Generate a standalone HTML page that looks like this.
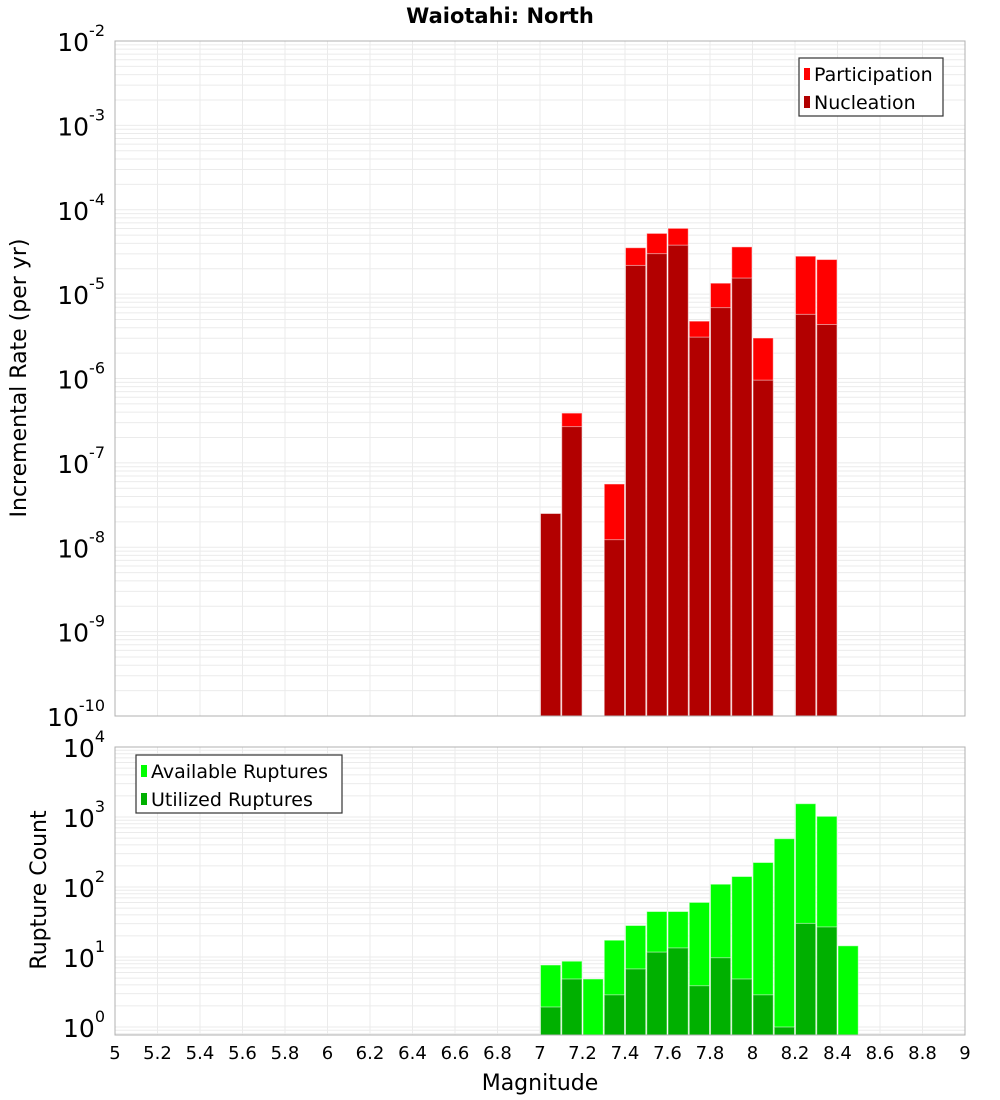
<!DOCTYPE html>
<html><head><meta charset="utf-8"><style>
body{margin:0;background:#fff;font-family:"Liberation Sans","DejaVu Sans",sans-serif}
svg{display:block}
</style></head><body>
<svg id="chart" width="1000" height="1100" xmlns="http://www.w3.org/2000/svg" font-family="DejaVu Sans, Liberation Sans, sans-serif">
<text x="500" y="23" text-anchor="middle" font-size="21" font-weight="bold">Waiotahi: North</text>
<text transform="translate(26,378) rotate(-90)" text-anchor="middle" font-size="22">Incremental Rate (per yr)</text>
<text transform="translate(46,890) rotate(-90)" text-anchor="middle" font-size="22">Rupture Count</text>
<text x="540" y="1090" text-anchor="middle" font-size="22">Magnitude</text>
<g id="g"></g>
</svg>
<script>
const mags=[7.05,7.15,7.35,7.45,7.55,7.65,7.75,7.85,7.95,8.05,8.25,8.35];
const partLog=[-7.60,-6.41,-7.25,-4.45,-4.28,-4.22,-5.32,-4.87,-4.44,-5.52,-4.55,-4.59];
const nuclLog=[-7.60,-6.57,-7.91,-4.66,-4.52,-4.42,-5.51,-5.16,-4.81,-6.02,-5.24,-5.36];
const cMags=[7.05,7.15,7.25,7.35,7.45,7.55,7.65,7.75,7.85,7.95,8.05,8.15,8.25,8.35,8.45];
const availLog=[0.886,0.94,0.686,1.24,1.45,1.65,1.65,1.78,2.04,2.15,2.35,2.69,3.19,3.01,1.16];
const utilLog=[0.286,0.686,null,0.46,0.83,1.07,1.13,0.59,0.99,0.686,0.46,0.0,1.48,1.43,null];
const xTicks=[5,5.2,5.4,5.6,5.8,6,6.2,6.4,6.6,6.8,7,7.2,7.4,7.6,7.8,8,8.2,8.4,8.6,8.8,9];
const topDecades=[-2,-3,-4,-5,-6,-7,-8,-9,-10];
const botDecades=[4,3,2,1,0];

const NS="http://www.w3.org/2000/svg";
const g=document.getElementById('g');
function el(t,a,p){const e=document.createElementNS(NS,t);for(const k in a)e.setAttribute(k,a[k]);(p||g).appendChild(e);return e;}
const X0=115,X1=965;
const x=m=>X0+(m-5)/4*(X1-X0);
const T={top:41,bot:716,lmax:-2,lmin:-10};
const B={top:747,bot:1035,lmax:4,lmin:-0.1};
const yT=l=>T.top+(T.lmax-l)/(T.lmax-T.lmin)*(T.bot-T.top);
const yB=l=>B.top+(B.lmax-l)/(4-0)*(1027-747);

function grid(P,yf,lo,hi,name){
  const gg=el('g',{});
  
  
  for(let d=Math.floor(lo);d<hi;d++){for(let k=1;k<10;k++){const l=d+Math.log10(k);if(l<lo||l>hi)continue;const y=yf(l);
    el('line',{x1:X0,x2:X1,y1:y,y2:y,stroke:'#ebebeb','stroke-width':1},gg);}}
  xTicks.forEach(m=>{el('line',{x1:x(m),x2:x(m),y1:P.top,y2:P.bot,stroke:'#ebebeb','stroke-width':1},gg);});
}
grid(T,yT,-10,-2,'top-grid');
grid(B,yB,-0.1,4,'bottom-grid');

function bars(ms,vals,yf,base,fill,name){
  ms.forEach((m,i)=>{if(vals[i]==null)return;const y=yf(vals[i]);
    const r=el('rect',{x:x(m-0.05)+0.5,y:y,width:x(m+0.05)-x(m-0.05)-1,height:base-y,fill:fill,stroke:'#fff','stroke-opacity':0.5,'stroke-width':1});
    
    });
}
bars(mags,partLog,yT,T.bot,'#ff0000','participation-bar');
bars(mags,nuclLog,yT,T.bot,'#b20000','nucleation-bar');
bars(cMags,availLog,yB,B.bot,'#00ff00','available-ruptures-bar');
bars(cMags,utilLog,yB,B.bot,'#00b000','utilized-ruptures-bar');

const f1=el('rect',{x:X0,y:T.top,width:X1-X0,height:T.bot-T.top,fill:'none',stroke:'#b0b0b0'});


const f2=el('rect',{x:X0,y:B.top,width:X1-X0,height:B.bot-B.top,fill:'none',stroke:'#b0b0b0'});



function ylab(d,y,name){
  const t=el('text',{x:105,y:y+10,'text-anchor':'end','font-size':25});
  
  
  const a=document.createElementNS(NS,'tspan');a.textContent='10';t.appendChild(a);
  const b=document.createElementNS(NS,'tspan');b.setAttribute('dy','-15');b.setAttribute('font-size','16');b.textContent=String(d);t.appendChild(b);
}
topDecades.forEach(d=>ylab(d,yT(d),'top-y-tick-label'));
botDecades.forEach(d=>ylab(d,yB(d),'bottom-y-tick-label'));
xTicks.forEach(m=>{const t=el('text',{x:x(m),y:1059,'text-anchor':'middle','font-size':18});
  
  
  t.textContent=String(m);});

function legend(bx,by,w,items,name){
  const lg=el('g',{});
  
  
  el('rect',{x:bx,y:by,width:w,height:58,fill:'#fff',stroke:'#333','stroke-width':1.2},lg);
  items.forEach((it,i)=>{const cy=by+16+i*28;
    el('rect',{x:bx+5,y:cy-6,width:6,height:12,fill:it[1]},lg);
    const t=el('text',{x:bx+15,y:cy+7,'font-size':19},lg);
    
    
    t.textContent=it[0];});
}
legend(799,58,144,[['Participation','#ff0000'],['Nucleation','#b20000']],'top-legend');
legend(136,755,206,[['Available Ruptures','#00ff00'],['Utilized Ruptures','#00b000']],'bottom-legend');
</script>
</body></html>
